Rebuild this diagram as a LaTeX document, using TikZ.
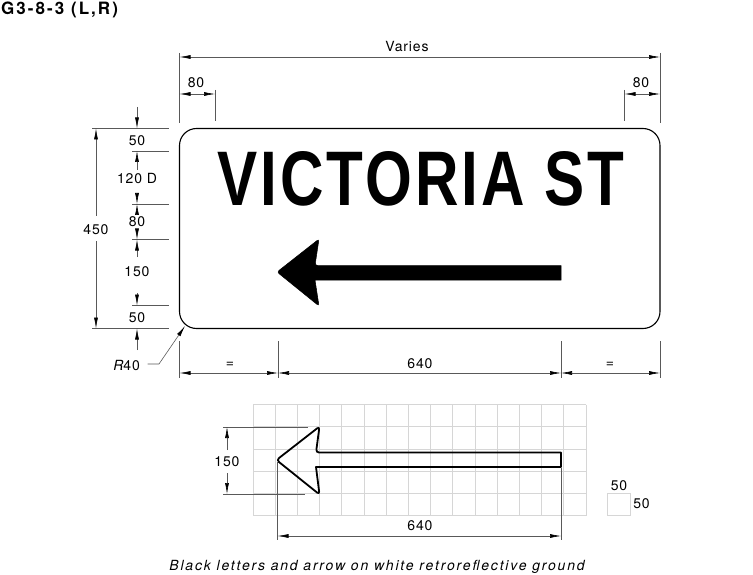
\documentclass[tikz,border=0pt]{standalone}
\usepackage{fontspec}
\setmainfont{TeX Gyre Heros}
\newfontfamily\dimfont[LetterSpace=6]{TeX Gyre Heros}
\newfontfamily\signfont[LetterSpace=5]{Liberation Sans}
\usetikzlibrary{arrows.meta}
\definecolor{dimgray}{gray}{0.35}
\definecolor{gridgray}{gray}{0.84}
\begin{document}
\begin{tikzpicture}[x=1pt,y=-1pt,
  dimline/.style={draw=dimgray,line width=0.6pt},
  dimarrow/.style={dimline,-{Latex[length=11pt,width=4pt,black]}},
  dimboth/.style={dimline,{Latex[length=11pt,width=4pt,black]}-{Latex[length=11pt,width=4pt,black]}},
  dimtext/.style={font=\dimfont\fontsize{14}{16}\selectfont,inner sep=0pt,text=black},
  arrowshape/.style={line join=round,line width=2pt,draw=black}]
\useasboundingbox (0,0) rectangle (753,575);
\node[anchor=west,inner sep=0pt] (title) at (1,10) {\fontspec{TeX Gyre Heros}[LetterSpace=12]\bfseries\fontsize{17}{19}\selectfont G3-8-3 (L,R)};
% sign
\draw[line width=1.1pt,rounded corners=17pt] (179.5,128.5) rectangle (660,328.5);
\node[anchor=base west,inner sep=0pt] (legend) at (217,206) {\resizebox{407pt}{54pt}{\signfont\bfseries VICTORIA ST}};
\fill[black,draw=black,line width=0.5pt,rounded corners=2.5pt] (277,272) -- (319,239) -- (315,265.5) [sharp corners] -- (561,265.5) -- (561,280) -- (315,280) [rounded corners=2.5pt] -- (319,306) -- cycle;
% top dimensions
\draw[dimline] (179.5,53) -- (179.5,123) (660,53) -- (660,123);
\draw[dimline] (215,90) -- (215,121) (624.5,90) -- (624.5,121);
\draw[dimboth] (179.5,57) -- (660,57);
\draw[dimboth] (179.5,94) -- (215,94);
\draw[dimboth] (624.5,94) -- (660,94);
\node[dimtext] (varies) at (407,47) {Varies};
\node[dimtext] (w1) at (196,83) {80};
\node[dimtext] (w2) at (641,83) {80};
% left dimensions
\draw[dimline] (92,128.5) -- (169,128.5) (92,328.5) -- (169,328.5);
\draw[dimline] (132,151) -- (169,151) (132,204) -- (169,204) (132,239.5) -- (169,239.5) (132,305.5) -- (169,305.5);
\draw[dimarrow] (96,216) -- (96,128.5);
\draw[dimarrow] (96,241) -- (96,328.5);
\node[dimtext] (h450) at (96,229.5) {450};
\draw[dimarrow] (137,107) -- (137,128.5);
\draw[dimarrow] (137,170) -- (137,151);
\draw[dimarrow] (137,193) -- (137,204);
\draw[dimarrow] (137,214) -- (137,204);
\draw[dimarrow] (137,229) -- (137,239.5);
\draw[dimarrow] (137,257) -- (137,239.5);
\draw[dimarrow] (137,293) -- (137,305.5);
\draw[dimarrow] (137,350) -- (137,328.5);
\node[dimtext] (h50a) at (137,140.5) {50};
\node[dimtext] (h120) at (137,178.5) {120 D};
\node[dimtext] (h80) at (137,222) {80};
\node[dimtext] (h150) at (137,272) {150};
\node[dimtext] (h50b) at (137,317.5) {50};
% radius
\node[dimtext,anchor=east] (rad) at (140,365.5) {\fontspec{TeX Gyre Heros}[LetterSpace=6]\fontsize{14}{16}\selectfont\itshape R\upshape 40};
\draw[dimarrow] (147.5,364) -- (159,364) -- (185,326);
% bottom dimensions
\draw[dimline] (179.5,341) -- (179.5,378) (278,341) -- (278,378) (561,341) -- (561,378) (660,341) -- (660,378);
\draw[dimboth] (179.5,373) -- (278,373);
\draw[dimboth] (278,373) -- (561,373);
\draw[dimboth] (561,373) -- (660,373);
\node[dimtext] (b1) at (230,365) {=};
\node[dimtext] (b2) at (420,363.5) {640};
\node[dimtext] (b3) at (610,365) {=};
% grid
\foreach \i in {0,...,15} \draw[gridgray,line width=0.7pt] ({253+22.2*\i},404.5) -- ({253+22.2*\i},515.5);
\foreach \j in {0,...,5} \draw[gridgray,line width=0.7pt] (253,{404.5+22.2*\j}) -- (586,{404.5+22.2*\j});
\draw[gridgray,line width=0.7pt] (607.5,493.5) rectangle (630,515.5);
\node[dimtext] (s1) at (619,485.5) {50};
\node[dimtext] (s2) at (641.5,504) {50};
% outlined arrow
\draw[line width=1.8pt,black,line join=round,rounded corners=3pt] (276.5,460) -- (319.5,426.5) -- (316,452.5) [sharp corners] -- (561,452.5) -- (561,467) -- (316,467) [rounded corners=3pt] -- (319.5,494.5) -- cycle;
\draw[dimline] (223,427) -- (308,427) (223,494) -- (305,494);
\draw[dimarrow] (227,450) -- (227,427);
\draw[dimarrow] (227,473) -- (227,494);
\node[dimtext] (g150) at (227,461.5) {150};
\draw[dimline] (277.5,462) -- (277.5,540) (561,468) -- (561,540);
\draw[dimboth] (277.5,536) -- (561,536);
\node[dimtext] (g640) at (420,525.5) {640};
\node[inner sep=0pt] (caption) at (377,566.5) {\fontspec{TeX Gyre Heros}[LetterSpace=13]\itshape\fontsize{14}{16}\selectfont Black letters and arrow on white retroreflective ground};
\end{tikzpicture}
\end{document}
